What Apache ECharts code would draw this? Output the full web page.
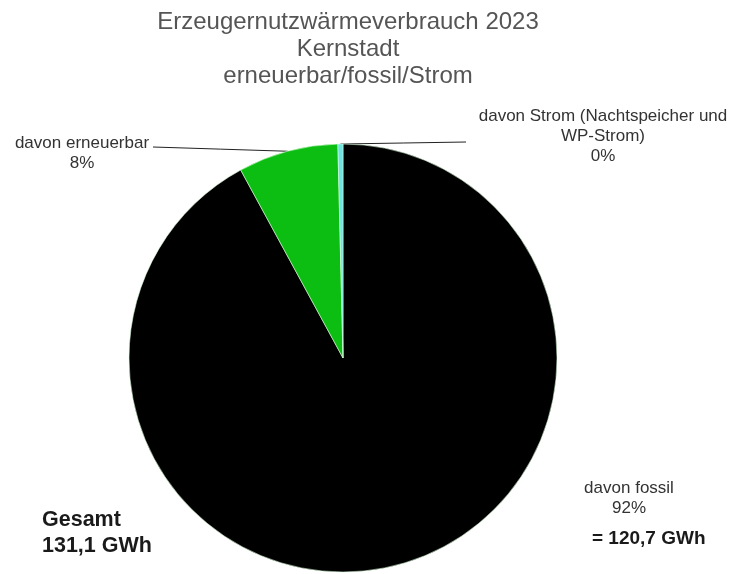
<!DOCTYPE html>
<html>
<head>
<meta charset="utf-8">
<script src="https://cdn.jsdelivr.net/npm/echarts@6/dist/echarts.min.js"></script>
<style>
  html, body { margin: 0; padding: 0; background: #fff; }
  #chart { width: 734px; height: 574px; }
</style>
</head>
<body>
<div id="chart"></div>
<script>
// Heat consumption 2023, split by source (GWh)
const titleLines = ['Erzeugernutzwärmeverbrauch 2023', 'Kernstadt', 'erneuerbar/fossil/Strom'];
const categories = ['davon fossil', 'davon erneuerbar', 'davon Strom (Nachtspeicher und\nWP-Strom)'];
const values = [120.7, 9.9, 0.5];
const colors = ['#000000', '#0cbd12', '#6fe3e3'];
const unit = 'GWh';

const fmt = v => v.toFixed(1).replace('.', ',');
const total = values.reduce((a, b) => a + b, 0);

// label anchor per slice (centre of text block) and where the leader line ends
const labelAnchors = [
  { x: 629, y: 498, line: null },
  { x: 82, y: 153, line: [153, 147] },
  { x: 603, y: 136, line: [466, 142] }
];

const chart = echarts.init(document.getElementById('chart'), null, { renderer: 'canvas' });

chart.setOption({
  animation: false,
  backgroundColor: '#ffffff',
  title: {
    text: titleLines.join('\n'),
    left: 343,
    top: 4,
    textAlign: 'center',
    textStyle: {
      fontFamily: 'Liberation Sans, Arial, sans-serif',
      fontSize: 24,
      fontWeight: 'normal',
      color: '#555555',
      lineHeight: 27
    }
  },
  series: [{
    type: 'pie',
    center: [343, 358],
    radius: 214,
    startAngle: 90,
    clockwise: true,
    silent: true,
    percentPrecision: 0,
    data: categories.map((name, i) => ({
      name,
      value: values[i],
      itemStyle: { color: colors[i] },
      labelLine: { show: !!labelAnchors[i].line }
    })),
    itemStyle: { borderColor: 'rgba(220,255,220,0.7)', borderWidth: 0.8 },
    label: {
      show: true,
      position: 'outside',
      formatter: '{b}\n{d}%',
      fontFamily: 'Liberation Sans, Arial, sans-serif',
      fontSize: 17,
      lineHeight: 20,
      color: '#333333',
      align: 'center'
    },
    labelLine: {
      show: true,
      length: 10,
      length2: 10,
      lineStyle: { color: '#222222', width: 1 }
    },
    labelLayout: function (params) {
      const a = labelAnchors[params.dataIndex];
      const out = { x: a.x, y: a.y, align: 'center', verticalAlign: 'middle' };
      if (a.line && params.labelLinePoints) {
        const p0 = params.labelLinePoints[0];
        const end = a.line;
        out.labelLinePoints = [p0, [(p0[0] + end[0]) / 2, (p0[1] + end[1]) / 2], end];
      }
      return out;
    }
  }],
  graphic: [
    {
      type: 'text',
      left: 42,
      top: 507,
      style: {
        text: 'Gesamt\n' + fmt(total) + ' ' + unit,
        fontFamily: 'Liberation Sans, Arial, sans-serif',
        fontSize: 21.5,
        fontWeight: 'bold',
        lineHeight: 26,
        fill: '#1a1a1a'
      }
    },
    {
      type: 'text',
      left: 592,
      top: 529,
      style: {
        text: '= ' + fmt(values[0]) + ' ' + unit,
        fontFamily: 'Liberation Sans, Arial, sans-serif',
        fontSize: 19,
        fontWeight: 'bold',
        fill: '#1a1a1a'
      }
    }
  ]
});
</script>
</body>
</html>
